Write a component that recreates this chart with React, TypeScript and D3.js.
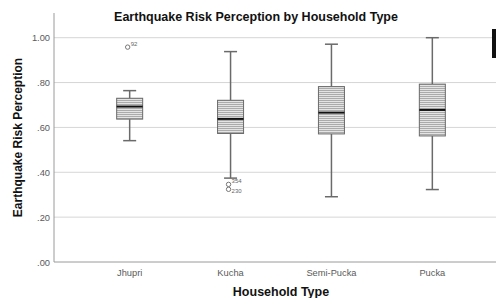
import * as d3 from "d3";

const categories = ["Jhupri", "Kucha", "Semi-Pucka", "Pucka"];
// box plot summaries
const whiskerLow = [0.541, 0.374, 0.291, 0.323];
const q1 = [0.637, 0.573, 0.571, 0.562];
const medians = [0.693, 0.638, 0.666, 0.678];
const q3 = [0.73, 0.721, 0.782, 0.793];
const whiskerHigh = [0.764, 0.938, 0.971, 1.0];

const outliers = [
  { cat: "Jhupri", value: 0.958, label: "92" },
  { cat: "Kucha", value: 0.346, label: "354" },
  { cat: "Kucha", value: 0.324, label: "230" },
];

const yTicks = [0, 0.2, 0.4, 0.6, 0.8, 1.0];

const W = 496;
const H = 298;
const MARGIN = { top: 13, left: 54, bottom: 36 };
const FONT = "Liberation Sans, Arial, sans-serif";

export default function App() {
  const x = d3.scalePoint<string>().domain(categories).range([MARGIN.left, 508]).padding(0.75);
  const y = d3.scaleLinear().domain([0, 1]).range([H - MARGIN.bottom, 37.7]);
  const yTop = y(1.11);
  const fmt = (v: number) => (v >= 1 ? v.toFixed(2) : d3.format(".2f")(v).replace(/^0/, ""));
  const boxW = 26;
  const capW = 13;

  return (
    <div style={{ position: "fixed", left: 0, top: 0 }}>
      <svg width={W} height={H} style={{ display: "block", background: "#fff" }} fontFamily={FONT}>
        <defs>
          <pattern id="hatch" width={4} height={2} patternUnits="userSpaceOnUse">
            <rect width={4} height={2} fill="#e4e4e4" />
            <rect width={4} height={1} fill="#ababab" />
          </pattern>
        </defs>

        {/* grid */}
        {yTicks.slice(1).map((t) => (
          <line key={t} x1={MARGIN.left} x2={W} y1={y(t)} y2={y(t)} stroke="#d6d6d6" strokeWidth={1} />
        ))}

        {/* axes */}
        <line x1={MARGIN.left} x2={MARGIN.left} y1={yTop} y2={y(0)} stroke="#9a9a9a" />
        <line x1={MARGIN.left} x2={W} y1={y(0)} y2={y(0)} stroke="#9a9a9a" />

        {yTicks.map((t) => (
          <text key={t} x={MARGIN.left - 4} y={y(t) + 3.5} textAnchor="end" fontSize={9.3} fill="#5a5a5a">
            {fmt(t)}
          </text>
        ))}

        {categories.map((c) => (
          <text key={c} x={x(c)} y={y(0) + 13.5} textAnchor="middle" fontSize={9.3} fill="#5a5a5a">
            {c}
          </text>
        ))}

        {/* boxes */}
        {categories.map((c, i) => {
          const cx = x(c)!;
          return (
            <g key={c}>
              <line x1={cx} x2={cx} y1={y(whiskerHigh[i])} y2={y(q3[i])} stroke="#6a6a6a" strokeWidth={1.5} />
              <line x1={cx} x2={cx} y1={y(q1[i])} y2={y(whiskerLow[i])} stroke="#6a6a6a" strokeWidth={1.5} />
              <line x1={cx - capW / 2} x2={cx + capW / 2} y1={y(whiskerHigh[i])} y2={y(whiskerHigh[i])} stroke="#6a6a6a" strokeWidth={1.5} />
              <line x1={cx - capW / 2} x2={cx + capW / 2} y1={y(whiskerLow[i])} y2={y(whiskerLow[i])} stroke="#6a6a6a" strokeWidth={1.5} />
              <rect
                x={cx - boxW / 2}
                y={y(q3[i])}
                width={boxW}
                height={y(q1[i]) - y(q3[i])}
                fill="url(#hatch)"
                stroke="#6a6a6a"
                strokeWidth={1}
              />
              <line x1={cx - boxW / 2} x2={cx + boxW / 2} y1={y(medians[i])} y2={y(medians[i])} stroke="#111" strokeWidth={2} />
            </g>
          );
        })}

        {/* outliers */}
        {outliers.map((o, i) => {
          const cx = x(o.cat)!;
          const cy = y(o.value);
          const up = i !== 2;
          return (
            <g key={o.label}>
              <circle cx={cx - 2} cy={cy} r={2.2} fill="none" stroke="#777" strokeWidth={1} />
              <text x={cx + 1} y={up ? cy - 1.5 : cy + 4} fontSize={6} fill="#666">
                {o.label}
              </text>
            </g>
          );
        })}

        {/* titles */}
        <text x={256} y={21} textAnchor="middle" fontSize={12.5} fontWeight="bold" fill="#111">
          Earthquake Risk Perception by Household Type
        </text>
        <text
          transform={`translate(22,${(yTop + y(0)) / 2}) rotate(-90)`}
          textAnchor="middle"
          fontSize={12}
          fontWeight="bold"
          fill="#111"
        >
          Earthquake Risk Perception
        </text>
        <text x={281} y={296} textAnchor="middle" fontSize={12.5} fontWeight="bold" fill="#111">
          Household Type
        </text>

        {/* clipped legend marker */}
        <rect x={492} y={29} width={4} height={29} fill="#111" />
      </svg>
    </div>
  );
}
